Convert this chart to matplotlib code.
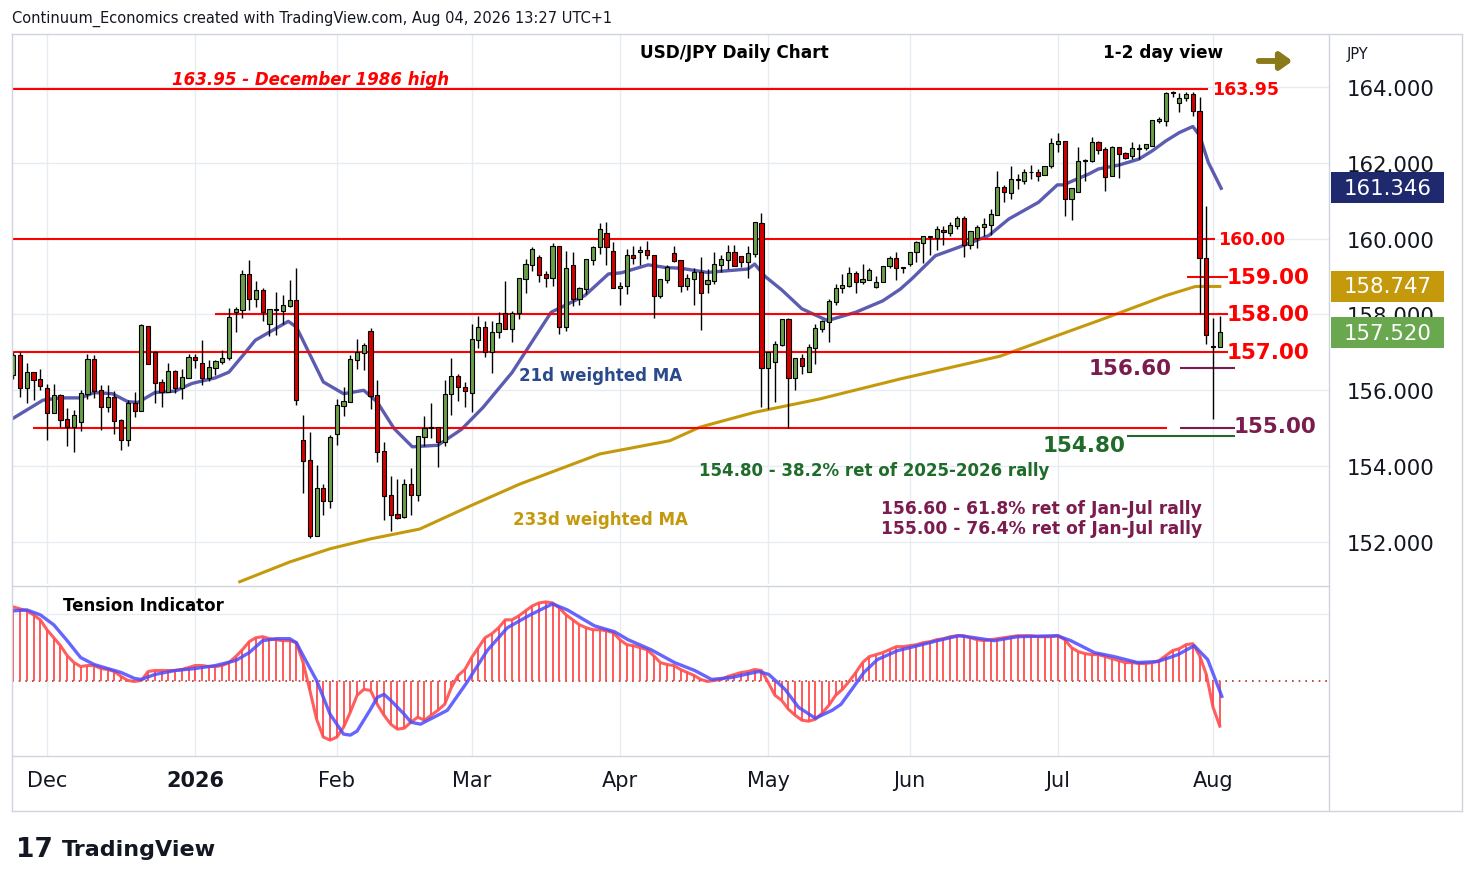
import matplotlib.pyplot as plt
import numpy as np
import pandas as pd
from matplotlib.lines import Line2D
from matplotlib.patches import Rectangle

# ---- daily OHLC, USD/JPY ----
opens = [156.40, 156.91, 156.05, 156.46, 156.28, 156.05, 155.41, 155.85, 155.21, 155.03,
         155.17, 155.91, 156.81, 155.98, 155.56, 155.80, 155.20, 154.68, 155.65, 155.45,
         157.67, 157.00, 156.20, 155.96, 156.48, 156.05, 156.33, 156.86, 156.70, 156.33,
         156.59, 156.75, 156.84, 158.07, 158.13, 159.05, 158.42, 158.62, 157.75, 158.13,
         158.10, 158.22, 158.35, 154.66, 154.14, 152.16, 153.41, 153.08, 154.84, 155.59,
         155.69, 156.81, 156.99, 157.54, 155.85, 154.38, 153.22, 152.72, 152.66, 153.51,
         153.25, 154.77, 155.00, 155.00, 154.64, 155.89, 156.35, 156.08, 155.92, 157.33,
         157.66, 157.02, 157.53, 158.03, 157.63, 158.03, 158.94, 159.30, 159.51, 159.04,
         158.95, 159.80, 157.66, 159.29, 158.41, 158.67, 159.44, 159.77, 160.12, 159.66,
         158.69, 158.74, 159.55, 159.66, 159.67, 159.55, 158.50, 158.91, 159.60, 159.42,
         158.74, 158.94, 159.09, 158.80, 158.89, 159.30, 159.44, 159.64, 159.53, 159.39,
         159.60, 160.40, 156.58, 156.74, 157.20, 157.85, 156.32, 156.84, 156.49, 157.11,
         157.62, 157.81, 158.34, 158.69, 158.76, 159.07, 158.87, 158.91, 158.72, 158.85,
         159.27, 159.48, 159.22, 159.32, 159.64, 159.88, 160.04, 160.03, 160.20, 160.14,
         160.34, 160.52, 159.84, 160.03, 160.30, 160.36, 160.63, 161.35, 161.20, 161.55,
         161.53, 161.75, 161.75, 161.69, 161.91, 162.50, 162.56, 161.06, 161.22, 162.04,
         162.06, 162.54, 162.34, 161.66, 162.41, 162.23, 162.17, 162.36, 162.39, 162.45,
         163.11, 163.11, 163.84, 163.58, 163.70, 163.81, 163.36, 159.48, 157.14, 157.14]
highs = [157.00, 157.00, 156.73, 156.46, 156.57, 156.16, 156.16, 155.90, 155.53, 155.47,
         156.00, 156.97, 156.94, 156.13, 156.13, 155.98, 155.25, 155.74, 155.96, 157.76,
         157.70, 157.03, 156.30, 156.73, 156.53, 156.57, 156.97, 156.97, 157.32, 156.79,
         156.79, 157.07, 158.18, 158.20, 159.18, 159.45, 158.88, 158.70, 158.15, 158.60,
         158.52, 158.90, 159.23, 155.36, 154.89, 154.04, 153.54, 154.82, 155.78, 156.09,
         156.94, 157.35, 157.26, 157.64, 156.27, 154.64, 153.74, 153.67, 153.67, 153.94,
         154.77, 155.32, 155.67, 155.03, 156.27, 156.84, 156.44, 156.23, 157.75, 157.95,
         157.84, 157.84, 158.06, 158.89, 158.10, 158.96, 159.46, 159.77, 159.57, 159.16,
         159.88, 159.80, 159.68, 159.66, 158.72, 159.46, 159.82, 160.41, 160.43, 159.90,
         158.87, 159.73, 159.80, 159.82, 159.95, 159.55, 158.91, 159.30, 159.82, 159.42,
         159.07, 159.22, 159.51, 159.20, 159.64, 159.57, 159.83, 159.83, 159.55, 159.82,
         160.45, 160.69, 157.00, 157.31, 157.85, 157.92, 156.84, 156.96, 157.22, 157.75,
         157.86, 158.41, 158.80, 159.07, 159.24, 159.16, 159.33, 159.22, 159.02, 159.29,
         159.55, 159.64, 159.25, 159.66, 159.95, 160.08, 160.08, 160.34, 160.34, 160.45,
         160.59, 160.59, 160.21, 160.37, 160.54, 160.78, 161.79, 161.41, 161.91, 161.71,
         161.84, 161.94, 161.84, 161.91, 162.65, 162.80, 162.56, 161.31, 162.41, 162.10,
         162.67, 162.58, 162.41, 162.45, 162.41, 162.28, 162.54, 162.50, 162.50, 163.14,
         163.20, 163.86, 163.90, 163.84, 163.86, 163.88, 163.73, 160.87, 157.90, 157.97]
lows = [156.30, 155.83, 155.67, 155.74, 156.00, 154.68, 155.40, 155.03, 154.53, 154.38,
        154.92, 155.78, 155.80, 154.95, 155.43, 154.86, 154.42, 154.53, 155.30, 155.45,
        156.70, 155.67, 155.56, 155.96, 155.94, 155.76, 156.33, 156.59, 156.15, 156.24,
        156.41, 156.70, 156.79, 157.54, 157.90, 158.11, 158.20, 157.82, 157.43, 157.47,
        157.76, 158.20, 155.60, 153.30, 152.11, 152.16, 152.70, 152.90, 154.55, 155.32,
        155.69, 156.55, 156.53, 155.52, 154.10, 152.57, 152.28, 152.60, 152.64, 152.70,
        153.08, 154.53, 154.73, 153.98, 154.53, 155.36, 155.71, 155.55, 155.42, 157.11,
        156.87, 156.46, 157.37, 157.63, 157.28, 157.88, 158.58, 159.16, 158.85, 158.72,
        158.74, 157.49, 157.57, 158.23, 158.25, 158.54, 159.30, 159.60, 159.30, 158.69,
        158.25, 158.54, 159.33, 159.30, 159.46, 157.90, 158.43, 158.83, 159.38, 158.60,
        158.65, 158.25, 157.60, 158.56, 158.80, 159.11, 159.20, 159.29, 159.24, 158.95,
        159.51, 155.55, 155.51, 155.70, 157.18, 155.00, 156.02, 156.43, 156.49, 156.70,
        157.55, 157.28, 158.25, 158.58, 158.72, 158.58, 158.80, 158.90, 158.70, 158.85,
        159.22, 158.90, 159.10, 159.29, 159.38, 159.36, 159.58, 159.71, 159.84, 160.08,
        160.26, 159.53, 159.73, 159.75, 160.06, 160.10, 160.63, 160.98, 161.06, 161.31,
        161.44, 161.58, 161.53, 161.69, 161.86, 162.29, 160.61, 160.48, 161.22, 161.53,
        162.01, 162.23, 161.27, 161.66, 161.59, 162.10, 162.10, 162.10, 162.35, 162.45,
        163.05, 162.98, 163.75, 163.33, 163.64, 163.24, 158.01, 157.22, 155.23, 157.14]
closes = [156.92, 156.05, 156.46, 156.28, 156.12, 155.41, 155.85, 155.21, 155.03, 155.32,
          155.91, 156.81, 155.98, 155.56, 155.80, 155.18, 154.68, 155.65, 155.45, 157.70,
          156.70, 156.20, 155.96, 156.48, 156.05, 156.33, 156.86, 156.81, 156.33, 156.59,
          156.75, 156.84, 157.92, 158.13, 159.05, 158.42, 158.62, 158.07, 158.13, 158.13,
          158.22, 158.35, 155.74, 154.14, 152.16, 153.41, 153.08, 154.75, 155.59, 155.69,
          156.81, 156.99, 157.17, 155.85, 154.38, 153.22, 152.71, 152.63, 153.51, 153.25,
          154.77, 154.99, 155.02, 154.64, 155.89, 156.35, 156.09, 155.99, 157.33, 157.66,
          157.02, 157.53, 157.75, 157.63, 158.03, 158.94, 159.30, 159.70, 159.04, 158.95,
          159.80, 157.66, 159.20, 158.41, 158.67, 159.44, 159.77, 160.23, 159.77, 158.69,
          158.74, 159.55, 159.48, 159.67, 159.57, 158.50, 158.91, 159.22, 159.42, 158.74,
          158.94, 159.09, 158.56, 158.89, 159.30, 159.44, 159.64, 159.29, 159.39, 159.60,
          160.43, 156.58, 157.00, 157.20, 157.85, 156.32, 156.84, 156.63, 157.11, 157.62,
          157.81, 158.34, 158.69, 158.76, 159.07, 158.87, 158.91, 159.16, 158.85, 159.27,
          159.48, 159.22, 159.22, 159.64, 159.89, 160.04, 160.06, 160.24, 160.17, 160.34,
          160.52, 159.84, 160.17, 160.30, 160.36, 160.63, 161.35, 161.22, 161.55, 161.56,
          161.75, 161.75, 161.66, 161.91, 162.50, 162.56, 161.06, 161.31, 162.04, 162.06,
          162.54, 162.34, 161.64, 162.41, 162.23, 162.14, 162.36, 162.37, 162.47, 163.11,
          163.14, 163.82, 163.86, 163.70, 163.81, 163.36, 159.48, 157.46, 157.14, 157.52]

# ---- moving averages (bar index, value) ----
ma21_x = [-0.5, 4.4, 7, 10, 12, 14.7, 17, 18.5, 21, 24, 26.5, 30, 32, 34.3, 35.9, 40.8, 42, 46, 49,
          52, 54, 56.5, 59.2, 63, 66.5, 69.7, 74, 79.8, 81.3, 84.8, 88.3, 90.2, 94.2, 96.8, 99,
          103, 109, 110, 111.5, 114, 117, 120.8, 125, 129, 131.6, 133.3, 136.8, 140.2, 144.7,
          147.7, 152.1, 154.9, 155.8, 159.6, 161, 164, 167, 169, 171, 173, 175, 176, 177.3, 179.2]
ma21_y = [155.21, 155.74, 155.80, 155.80, 155.94, 155.91, 155.70, 155.68, 155.94, 155.98, 156.18,
          156.33, 156.48, 156.97, 157.32, 157.82, 157.67, 156.22, 155.91, 156.00, 155.69, 154.99,
          154.51, 154.55, 154.97, 155.55, 156.47, 158.06, 158.19, 158.50, 159.07, 159.10, 159.31,
          159.24, 159.22, 159.11, 159.20, 159.33, 159.01, 158.65, 158.15, 157.84, 158.06, 158.36,
          158.67, 158.94, 159.55, 159.77, 160.08, 160.52, 160.96, 161.42, 161.42, 161.71, 161.84,
          161.94, 162.10, 162.32, 162.58, 162.80, 162.96, 162.72, 162.01, 161.33]
ma233_x = [33.6, 41, 47, 53, 60.3, 67.8, 75.2, 87, 97.4, 101.9, 110, 119.6, 131.6, 146.4, 161.2,
           171, 175.4, 179]
ma233_y = [150.95, 151.47, 151.82, 152.08, 152.34, 152.95, 153.53, 154.32, 154.67, 155.03, 155.42,
           155.77, 156.30, 156.90, 157.85, 158.50, 158.74, 158.74]

# ---- tension indicator ----
tension = [75, 73, 71, 67, 62, 52, 44, 36, 26, 19, 15, 16, 16, 13, 12, 10, 5, 1, 0, 1,
           10, 11, 11, 11, 11, 12, 14, 16, 16, 15, 15, 16, 19, 25, 32, 40, 44, 45, 43, 42,
           41, 41, 39, 19, -9, -38, -56, -59, -56, -46, -31, -14, -8, -9, -23, -34, -43, -48, -47, -41,
           -36, -39, -34, -29, -23, -6, 6, 12, 24, 34, 44, 48, 54, 62, 62, 66, 71, 76, 79, 80,
           79, 74, 67, 62, 57, 54, 52, 52, 51, 49, 42, 37, 36, 34, 32, 26, 19, 17, 16, 12,
           9, 6, 2, 0, 1, 2, 5, 7, 9, 10, 12, 11, -1, -14, -19, -28, -34, -39, -40, -38,
           -32, -24, -14, -8, 0, 9, 19, 25, 27, 29, 32, 35, 35, 36, 37, 39, 40, 42, 43, 45,
           46, 46, 44, 42, 41, 42, 43, 44, 45, 46, 46, 46, 45, 45, 45, 46, 42, 34, 30, 28,
           27, 27, 25, 23, 21, 19, 19, 18, 18, 19, 21, 26, 31, 33, 37, 38, 26, 7, -26, -45]
signal_x = [0, 2, 4, 6, 8, 10, 12, 14, 16, 18, 19, 21, 24, 27, 30, 33, 35, 37, 39, 41, 42, 43, 45,
            47, 49, 50, 51, 53, 54, 55, 56, 58, 59, 60.4, 64.4, 67.3, 70.3, 73.3, 76.7, 80, 82.2,
            86.2, 89.2, 91.2, 94.6, 98.1, 101.1, 103.6, 106.6, 110.6, 112.1, 114.5, 116.5, 119,
            121.5, 122.8, 124.3, 126.2, 128.2, 131.2, 134.2, 137.1, 140.3, 142.6, 145.5, 149,
            154.9, 156.9, 160.4, 163.3, 166.8, 169.8, 172.8, 175.2, 177.2, 179.3]
signal_y = [71, 72, 67, 57, 41, 24, 17, 13, 9, 3, 2, 7, 11, 13, 16, 21, 29, 41, 43, 43, 39, 26, 1,
            -33, -53, -54, -50, -28, -16, -13, -19, -33, -41, -43, -29, -1, 31, 54, 67, 78, 72,
            56, 50, 42, 32, 19, 11, 2, 4, 10, 7, -8, -26, -37, -29, -23, -9, 9, 22, 31, 36, 41,
            46, 44, 41, 45, 46, 41, 29, 25, 19, 20, 27, 36, 22, -15]

levels = [163.95, 160.00, 159.00, 158.00, 157.00, 155.00]
tag_vals = [161.346, 158.747, 157.520]
tag_cols = ["#1f2a6e", "#c49a0c", "#6aa84f"]
dates = pd.bdate_range("2025-11-24", "2026-08-04")
dates = dates[~dates.isin(pd.to_datetime(["2025-12-25", "2026-01-01"]))]

W, H = 1474, 887
def fx(px): return px / W
def fy(py): return 1 - py / H
def bx(px): return (px - 13.3) / 6.74   # pixel -> bar index

fig = plt.figure(figsize=(W / 100, H / 100), dpi=100)
fig.patch.set_facecolor("white")
ax = fig.add_axes([fx(12), fy(585), fx(1329) - fx(12), fy(35) - fy(585)])
ti = fig.add_axes([fx(12), fy(757), fx(1329) - fx(12), fy(588) - fy(757)])

x = np.arange(len(closes))
o, h, l, c = map(np.array, (opens, highs, lows, closes))
up = c >= o
grid_c = "#e6ecf2"

# month ticks
mpos, mlab = [], []
for i, d in enumerate(dates):
    if i == 0 or d.month != dates[i - 1].month:
        if i == 0 and d.day > 1:
            continue
        mpos.append(i)
        mlab.append("2026" if d.month == 1 else d.strftime("%b"))

for a in (ax, ti):
    a.set_xlim(-0.19, 195.2)
    for p in mpos:
        a.axvline(p, color=grid_c, lw=1, zorder=0)
    for s in a.spines.values():
        s.set_visible(False)
    a.set_xticks([])

ax.set_ylim(150.89, 165.40)
for yv in range(152, 166, 2):
    ax.axhline(yv, color=grid_c, lw=1, zorder=0)

# candles
ax.vlines(x, l, h, color="black", lw=1, zorder=3)
ax.bar(x, np.abs(c - o) + 0.02, bottom=np.minimum(o, c), width=0.62,
       color=np.where(up, "#6a9f4a", "#d40000"), edgecolor="black", lw=0.8, zorder=4)

ax.plot(ma21_x, ma21_y, color="#4a4aa8", lw=2.4, alpha=0.9, zorder=2)
ax.plot(ma233_x, ma233_y, color="#c49a0c", lw=2.2, zorder=2)

# levels
red = "#ff0000"
purple = "#7a1d4e"
green = "#1f6b2a"
ax.hlines(levels[0], bx(12), bx(1208), color=red, lw=1.5, zorder=2)
ax.hlines(levels[1], bx(12), bx(1215), color=red, lw=1.5, zorder=2)
ax.hlines(levels[2], bx(1187), bx(1228), color=red, lw=1.5, zorder=2)
ax.hlines(levels[3], bx(215), bx(1228), color=red, lw=1.5, zorder=2)
ax.hlines(levels[4], bx(12), bx(1228), color=red, lw=1.5, zorder=2)
ax.hlines(levels[5], bx(33), bx(1167), color=red, lw=1.5, zorder=2)
ax.hlines([156.60, 155.00], bx(1180), bx(1235), color=purple, lw=1.5, zorder=2)
ax.hlines(154.80, bx(1127), bx(1235), color=green, lw=1.5, zorder=2)

ax.text(bx(1212), 163.95, "163.95", color=red, fontsize=12.5, fontweight="bold", va="center")
ax.text(bx(1218), 160.00, "160.00", color=red, fontsize=12.5, fontweight="bold", va="center")
for v in (159.0, 158.0, 157.0):
    ax.text(bx(1227), v, f"{v:.2f}", color=red, fontsize=15.5, fontweight="bold", va="center")
ax.text(bx(1172), 156.60, "156.60", color=purple, fontsize=15.5, fontweight="bold",
        va="center", ha="right")
ax.text(bx(1234), 155.05, "155.00", color=purple, fontsize=15.5, fontweight="bold", va="center")
ax.text(bx(1125), 154.55, "154.80", color=green, fontsize=15.5, fontweight="bold",
        va="center", ha="right")

ax.text(bx(172), 164.2, "163.95 - December 1986 high", color=red, fontsize=12,
        fontweight="bold", style="italic", va="center")
ax.text(bx(519), 156.4, "21d weighted MA", color="#2a4a8a", fontsize=12, fontweight="bold", va="center")
ax.text(bx(513), 152.6, "233d weighted MA", color="#c49a0c", fontsize=12, fontweight="bold", va="center")
ax.text(bx(699), 153.9, "154.80 - 38.2% ret of 2025-2026 rally", color=green, fontsize=12,
        fontweight="bold", va="center")
ax.text(bx(1202), 152.9, "156.60 - 61.8% ret of Jan-Jul rally", color=purple, fontsize=12.3,
        fontweight="bold", va="center", ha="right")
ax.text(bx(1202), 152.37, "155.00 - 76.4% ret of Jan-Jul rally", color=purple, fontsize=12.3,
        fontweight="bold", va="center", ha="right")

# price axis
ax.yaxis.tick_right()
ax.set_yticks(range(152, 166, 2))
ax.set_yticklabels([f"{v:.3f}" for v in range(152, 166, 2)], fontsize=15.3, color="#131722")
ax.tick_params(axis="y", length=0, pad=13)
pr = ax.get_ylim()
for v, col in zip(tag_vals, tag_cols):
    yc = 35 + (pr[1] - v) / (pr[1] - pr[0]) * 550
    fig.add_artist(Rectangle((fx(1331), fy(yc + 15.5)), fx(1444) - fx(1331), 31 / H,
                             transform=fig.transFigure, fc=col, ec="none", zorder=10))
    fig.text(fx(1388), fy(yc), f"{v:.3f}", color="white", fontsize=15.3, ha="center",
             va="center", zorder=11)

# tension indicator
ti.set_ylim(-75, 95)
ti.set_yticks([])
ti.axhline(68, color=grid_c, lw=1, zorder=0)
ti.axhline(0, color="#b03030", lw=1.2, ls=(0, (1, 3)), zorder=1)
ti.vlines(x, 0, tension, color="#ff4d4d", lw=1.3, zorder=2)
ti.plot(x, tension, color="#ff4d4d", lw=2.2, alpha=0.9, zorder=3)
ti.plot(signal_x, signal_y, color="#4b4bff", lw=2.4, alpha=0.85, zorder=4)
ti.text(bx(63), 77, "Tension Indicator", fontsize=12, fontweight="bold", va="center")

# date labels
for p, lab in zip(mpos, mlab):
    fig.text(fx(13.3 + 6.74 * p), fy(781), lab, ha="center", va="center", fontsize=15,
             color="#131722", fontweight="bold" if lab == "2026" else "normal")

# frame lines
fc = "#d1d4dc"
for (x0, y0, x1, y1) in [(12, 35, 1462, 35), (12, 812, 1462, 812), (12, 35, 12, 812),
                         (1462, 35, 1462, 812), (1329, 35, 1329, 812), (12, 757, 1329, 757),
                         (12, 587, 1329, 587)]:
    fig.add_artist(Line2D([fx(x0), fx(x1)], [fy(y0), fy(y1)], color=fc, lw=1))

fig.text(fx(12), fy(19), "Continuum_Economics created with TradingView.com, Aug 04, 2026 13:27 UTC+1",
         fontsize=10.5, color="#131722", va="center")
fig.text(fx(640), fy(53), "USD/JPY Daily Chart", fontsize=12.2, fontweight="bold", va="center")
fig.text(fx(1103), fy(53), "1-2 day view", fontsize=12.2, fontweight="bold", va="center")
fig.add_artist(plt.annotate("", xy=(fx(1295), fy(62)), xytext=(fx(1256), fy(62)),
                            xycoords="figure fraction",
                            arrowprops=dict(arrowstyle="-|>,head_width=0.5,head_length=0.7",
                                            color="#8b7a1a", lw=4)))
fig.text(fx(1347), fy(55), "JPY", fontsize=10.5, color="#131722", va="center")
fig.text(fx(16), fy(850), "17", fontsize=19, fontweight="heavy", color="#131722", va="center")
fig.text(fx(62), fy(850), "TradingView", fontsize=16, fontweight="bold", color="#131722", va="center")

fig.savefig("out.png", dpi=100)
